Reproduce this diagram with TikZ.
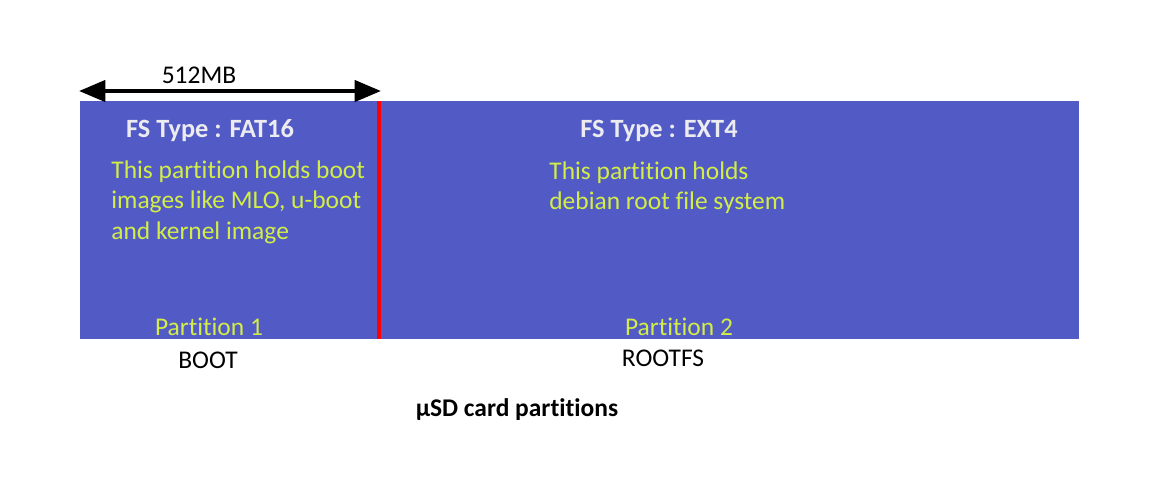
\documentclass[tikz,border=0pt]{standalone}
\usepackage{fontspec}
\setmainfont{Carlito}[Ligatures=NoCommon]
\usepackage{xcolor}
\usetikzlibrary{arrows.meta, positioning}

\definecolor{cardblue}{RGB}{82,90,198}
\definecolor{limetext}{RGB}{210,238,70}
\definecolor{fstext}{RGB}{236,236,240}

\begin{document}
\begin{tikzpicture}[x=0.02cm, y=-0.02cm,
    every node/.style={inner sep=0pt, font=\fontsize{14.5}{17.5}\selectfont},
    fslabel/.style={text=fstext, font=\fontsize{15}{18}\selectfont\bfseries},
    info/.style={text=limetext, align=left, anchor=north west},
    partname/.style={text=limetext},
    sizearrow/.style={{Triangle[length=15pt, width=12pt]}-{Triangle[length=15pt, width=12pt]}, line width=2.3pt}]
    \useasboundingbox (0,0) rectangle (1163,488);
    % Card body
    \fill[cardblue] (80,101) rectangle (1079,339);
    % Partition boundary
    \coordinate (p1top) at (379,101);
    \coordinate (p1bot) at (379,339);
    \draw[red, line width=2.4pt] (p1top) -- (p1bot);
    % Size of partition 1
    \coordinate (sizel) at (79,91);
    \coordinate (sizer) at (381,91);
    \draw[sizearrow] (sizel) -- (sizer);
    \node (size) at (199,75) {512MB};
    % Partition 1
    \node[fslabel] (fs1) at (210,131) {FS Type : FAT16};
    \node[info] (info1) at (111,160) {This partition holds boot\\images like MLO, u-boot\\and kernel image};
    \node[partname] (part1) at (209,327) {Partition 1};
    \node (boot) at (208,360) {BOOT};
    % Partition 2
    \node[fslabel] (fs2) at (659,131) {FS Type : EXT4};
    \node[info] (info2) at (549,161) {This partition holds\\debian root file system};
    \node[partname] (part2) at (679,327) {Partition 2};
    \node (rootfs) at (663,358) {ROOTFS};
    % Caption
    \node[font=\fontsize{14.5}{18}\selectfont\bfseries] (caption) at (517,410) {µSD card partitions};
\end{tikzpicture}
\end{document}
